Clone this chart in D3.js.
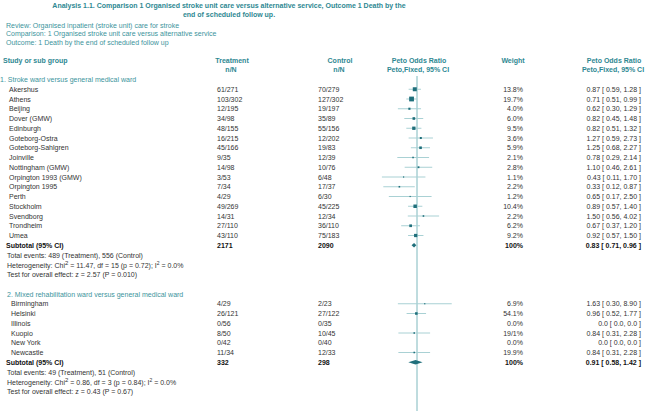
<!DOCTYPE html>
<html><head><meta charset="utf-8">
<script src="https://cdn.jsdelivr.net/npm/d3@7"></script>
<style>
body{margin:0;background:#fff}
svg{display:block}
text{font-family:"Liberation Sans",Arial,Helvetica,sans-serif;font-size:7px}
</style>
</head><body>
<svg id="c" width="650" height="416"></svg>
<script>
// ---------- data ----------
const titleLines = ["Analysis 1.1.   Comparison 1 Organised stroke unit care versus alternative service, Outcome 1 Death by the", "end of scheduled follow up."];
const infoLines = ["Review: Organised inpatient (stroke unit) care for stroke", "Comparison: 1 Organised stroke unit care versus alternative service", "Outcome:  1 Death by the end of scheduled follow up"];
const groupLabels = ["1. Stroke ward versus general medical ward", "2. Mixed rehabilitation ward versus general medical ward"];

const studies1 = ["Akershus","Athens","Beijing","Dover (GMW)","Edinburgh","Goteborg-Ostra","Goteborg-Sahlgren","Joinville","Nottingham (GMW)","Orpington 1993 (GMW)","Orpington 1995","Perth","Stockholm","Svendborg","Trondheim","Umea"];
const treat1 = ["61/271","103/302","12/195","34/98","48/155","16/215","45/166","9/35","14/98","3/53","7/34","4/29","49/269","14/31","27/110","43/110"];
const control1 = ["70/279","127/302","19/197","35/89","55/156","12/202","19/83","12/39","10/76","6/48","17/37","6/30","45/225","12/34","36/110","75/183"];
const weights1 = ["13.8%","19.7%","4.0%","6.0%","9.5%","3.6%","5.9%","2.1%","2.8%","1.1%","2.2%","1.2%","10.4%","2.2%","6.2%","9.2%"];
const or1 = [0.87,0.71,0.62,0.82,0.82,1.27,1.25,0.78,1.10,0.43,0.33,0.65,0.89,1.50,0.67,0.92];
const lo1 = [0.59,0.51,0.30,0.45,0.51,0.59,0.68,0.29,0.46,0.11,0.12,0.17,0.57,0.56,0.37,0.57];
const hi1 = [1.28,0.99,1.29,1.48,1.32,2.73,2.27,2.14,2.61,1.70,0.87,2.50,1.40,4.02,1.20,1.50];

const studies2 = ["Birmingham","Helsinki","Illinois","Kuopio","New York","Newcastle"];
const treat2 = ["4/29","26/121","0/56","8/50","0/42","11/34"];
const control2 = ["2/23","27/122","0/35","10/45","0/40","12/33"];
const weights2 = ["6.9%","54.1%","0.0%","19/1%","0.0%","19.9%"];
const or2 = [1.63,0.96,0,0.84,0,0.84];
const lo2 = [0.30,0.52,0,0.31,0,0.31];
const hi2 = [8.90,1.77,0,2.28,0,2.28];

const subTreat = ["2171","332"];
const subControl = ["2090","298"];
const subOr = [0.83,0.91];
const subLo = [0.71,0.58];
const subHi = [0.96,1.42];
const totalEvents = ["Total events: 489 (Treatment), 556 (Control)", "Total events: 49 (Treatment), 51 (Control)"];
const hetChi = ["11.47","0.86"];
const hetDf = ["15","3"];
const hetP = ["0.72","0.84"];
const hetI2 = ["0.0%","0.0%"];
const overallZ = ["Test for overall effect: z = 2.57 (P = 0.010)", "Test for overall effect: z = 0.43 (P = 0.67)"];

// ---------- styles ----------
const TEAL = "#2e8892", TEAL_L = "#3d949d", BODY = "#333", BOLD = "#111";
const LINE = "#7fb9be", CI = "#a9d1d4", BOX = "#1f6f7b";

const svg = d3.select("#c");
const x = d3.scaleLog().domain([0.1, 10]).range([380.4, 453.6]);
const y = d3.scaleLinear().domain([0, 34]).range([60, 60 + 34 * 9.75]);

function fmt(v){ return v.toFixed(2); }
function ciText(o,l,h){ return o === 0 ? "0.0 [ 0.0, 0.0 ]" : `${fmt(o)} [ ${fmt(l)}, ${fmt(h)} ]`; }
function pv(s){ const [e,n] = s.split("/").map(Number); return {e,n}; }
function info(t,c){ // Peto variance from counts
  const a = pv(t), b = pv(c); const N = a.n + b.n, E = a.e + b.e;
  if (E === 0) return 0;
  return E*(N-E)*a.n*b.n/(N*N*(N-1));
}
const boxScale = d3.scaleSqrt().domain([0, 25]).range([0, 4]);

function txt(xp, yp, s, opt = {}){
  return svg.append("text").attr("x", xp).attr("y", yp)
    .attr("dominant-baseline", "central")
    .attr("text-anchor", opt.anchor || "start")
    .attr("fill", opt.fill || BODY)
    .attr("font-weight", opt.bold ? "bold" : null)
    .text(s);
}

// title & info
titleLines.forEach((s,i) => txt(229, 5.7 + i*8.4, s, {anchor:"middle", fill:TEAL, bold:true}));
infoLines.forEach((s,i) => txt(6, 25 + i*8.6, s, {fill:TEAL_L}));

// column headers
txt(3, y(0), "Study or sub group", {fill:TEAL, bold:true});
txt(232, y(0), "Treatment", {anchor:"middle", fill:TEAL, bold:true});
txt(231, y(1), "n/N", {anchor:"middle", fill:TEAL, bold:true});
txt(340, y(0), "Control", {anchor:"middle", fill:TEAL, bold:true});
txt(339, y(1), "n/N", {anchor:"middle", fill:TEAL, bold:true});
txt(419, y(0), "Peto Odds Ratio", {anchor:"middle", fill:TEAL, bold:true});
txt(418, y(1), "Peto,Fixed, 95% CI", {anchor:"middle", fill:TEAL, bold:true});
txt(513, y(0), "Weight", {anchor:"middle", fill:TEAL, bold:true});
txt(614, y(0), "Peto Odds Ratio", {anchor:"middle", fill:TEAL, bold:true});
txt(613, y(1), "Peto,Fixed, 95% CI", {anchor:"middle", fill:TEAL, bold:true});

// reference line
svg.append("line").attr("x1", x(1)).attr("x2", x(1)).attr("y1", 76).attr("y2", 411)
  .attr("stroke", LINE).attr("stroke-width", 1);

const groups = [
  {label: groupLabels[0], lx: 0, sx: 9, start: 2, names: studies1, t: treat1, c: control1, w: weights1, o: or1, l: lo1, h: hi1},
  {label: groupLabels[1], lx: 7, sx: 11, start: 24, names: studies2, t: treat2, c: control2, w: weights2, o: or2, l: lo2, h: hi2}
];

groups.forEach((g, gi) => {
  txt(g.lx, y(g.start), g.label, {fill:TEAL_L});
  g.names.forEach((name, i) => {
    const yy = y(g.start + 1 + i);
    txt(g.sx, yy, name);
    txt(217, yy, g.t[i]);
    txt(318, yy, g.c[i]);
    txt(523, yy, g.w[i], {anchor:"end"});
    txt(641, yy, ciText(g.o[i], g.l[i], g.h[i]), {anchor:"end"});
    if (g.o[i] > 0) {
      svg.append("line").attr("x1", x(g.l[i])).attr("x2", x(g.h[i]))
        .attr("y1", yy).attr("y2", yy).attr("stroke", CI).attr("stroke-width", 1);
      const s = Math.max(1.2, boxScale(info(g.t[i], g.c[i])));
      svg.append("rect").attr("x", x(g.o[i]) - s/2).attr("y", yy - s/2)
        .attr("width", s).attr("height", s).attr("fill", BOX);
    }
  });
  const ys = y(g.start + 1 + g.names.length);
  txt(6, ys, "Subtotal (95% CI)", {bold:true, fill:BOLD});
  txt(217, ys, subTreat[gi], {bold:true, fill:BOLD});
  txt(318, ys, subControl[gi], {bold:true, fill:BOLD});
  txt(523, ys, "100%", {anchor:"end", bold:true, fill:BOLD});
  txt(641, ys, ciText(subOr[gi], subLo[gi], subHi[gi]), {anchor:"end", bold:true, fill:BOLD});
  const dh = 2.2;
  svg.append("path")
    .attr("d", `M${x(subLo[gi])},${ys} L${x(subOr[gi])},${ys-dh} L${x(subHi[gi])},${ys} L${x(subOr[gi])},${ys+dh} Z`)
    .attr("fill", BOX);
  txt(7, y(g.start + 2 + g.names.length), totalEvents[gi]);
  const het = txt(7, y(g.start + 3 + g.names.length), "");
  het.append("tspan").text("Heterogeneity: Chi");
  het.append("tspan").attr("dy", -2).attr("font-size", "6px").text("2");
  het.append("tspan").attr("dy", 2).text(` = ${hetChi[gi]}, df = ${hetDf[gi]} (p = ${hetP[gi]}); I`);
  het.append("tspan").attr("dy", -2).attr("font-size", "5px").text("2");
  het.append("tspan").attr("dy", 2).text(` = ${hetI2[gi]}`);
  txt(7, y(g.start + 4 + g.names.length), overallZ[gi]);
});
</script>
</body></html>
